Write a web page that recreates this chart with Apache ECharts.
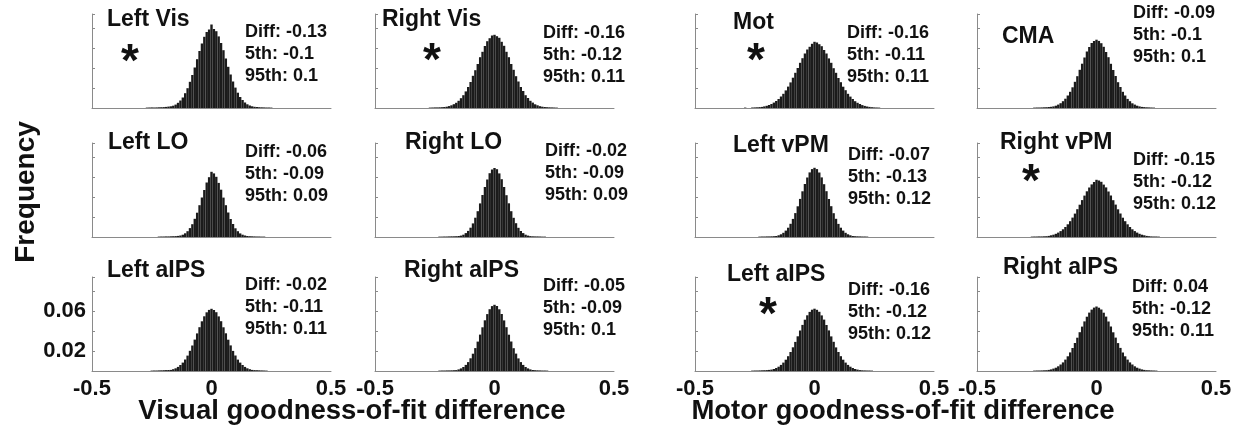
<!DOCTYPE html>
<html>
<head>
<meta charset="utf-8">
<title>Goodness-of-fit difference histograms</title>
<script src="https://cdn.jsdelivr.net/npm/echarts@6/dist/echarts.min.js"></script>
<style>
  html, body { margin: 0; padding: 0; background: #fff; }
  #chart { width: 1239px; height: 432px; }
</style>
</head>
<body>
<div id="chart"></div>
<script>
// bin centres of the permutation histograms (bin width 0.01)
const bins = [
  -0.30, -0.29, -0.28, -0.27, -0.26, -0.25, -0.24, -0.23, -0.22, -0.21,
  -0.20, -0.19, -0.18, -0.17, -0.16, -0.15, -0.14, -0.13, -0.12, -0.11,
  -0.10, -0.09, -0.08, -0.07, -0.06, -0.05, -0.04, -0.03, -0.02, -0.01,
  0.00,
  0.01, 0.02, 0.03, 0.04, 0.05, 0.06, 0.07, 0.08, 0.09, 0.10,
  0.11, 0.12, 0.13, 0.14, 0.15, 0.16, 0.17, 0.18, 0.19, 0.20,
  0.21, 0.22, 0.23, 0.24, 0.25, 0.26, 0.27, 0.28, 0.29, 0.30
]

const panelNames = ['Left Vis', 'Right Vis', 'Mot', 'CMA',
  'Left LO', 'Right LO', 'Left vPM', 'Right vPM',
  'Left aIPS', 'Right aIPS', 'Left aIPS', 'Right aIPS']
const diffValues = [-0.13, -0.16, -0.16, -0.09, -0.06, -0.02, -0.07, -0.15, -0.02, -0.05, -0.16, 0.04]
const p5Values = [-0.1, -0.12, -0.11, -0.1, -0.09, -0.09, -0.13, -0.12, -0.11, -0.09, -0.12, -0.12]
const p95Values = [0.1, 0.11, 0.11, 0.1, 0.09, 0.09, 0.12, 0.12, 0.11, 0.1, 0.12, 0.11]
const significant = [true, true, true, false, false, false, false, true, false, false, true, false]

const xTickLabels = ['-0.5', '0', '0.5']
const yTickLabels = ['0.02', '0.06']

const leftVis = [
  0, 0, 0, 0.0004, 0.0005, 0.0006, 0.0005, 0.0006, 0.0007, 0.0008,
  0.0009, 0.0011, 0.0014, 0.0017, 0.0023, 0.0034, 0.0052, 0.0075, 0.0105, 0.0148,
  0.0198, 0.0262, 0.0330, 0.0405, 0.0488, 0.0570, 0.0645, 0.0712, 0.0760, 0.0785,
  0.0835,
  0.0790, 0.0768, 0.0716, 0.0650, 0.0578, 0.0495, 0.0412, 0.0335, 0.0265, 0.0204,
  0.0153, 0.0110, 0.0080, 0.0055, 0.0037, 0.0025, 0.0017, 0.0012, 0.0010, 0.0008,
  0.0007, 0.0006, 0.0005, 0.0005, 0.0004, 0, 0, 0, 0, 0
]
const rightVis = [
  0, 0, 0, 0.0004, 0.0005, 0.0006, 0.0006, 0.0007, 0.0008, 0.0010,
  0.0013, 0.0019, 0.0027, 0.0038, 0.0052, 0.0072, 0.0098, 0.0128, 0.0166, 0.0210,
  0.0260, 0.0322, 0.0378, 0.0440, 0.0508, 0.0562, 0.0620, 0.0668, 0.0698, 0.0725,
  0.0732,
  0.0718, 0.0702, 0.0662, 0.0622, 0.0562, 0.0508, 0.0440, 0.0382, 0.0318, 0.0265,
  0.0210, 0.0170, 0.0128, 0.0100, 0.0072, 0.0054, 0.0037, 0.0027, 0.0018, 0.0013,
  0.0010, 0.0008, 0.0007, 0.0006, 0.0005, 0.0004, 0, 0, 0, 0
]
const mot = [
  0, 0.0004, 0, 0, 0.0005, 0.0006, 0.0007, 0.0009, 0.0011, 0.0016,
  0.0022, 0.0030, 0.0040, 0.0054, 0.0070, 0.0090, 0.0115, 0.0142, 0.0176, 0.0214,
  0.0256, 0.0303, 0.0352, 0.0400, 0.0452, 0.0498, 0.0545, 0.0585, 0.0612, 0.0642,
  0.0662,
  0.0655, 0.0638, 0.0618, 0.0580, 0.0545, 0.0496, 0.0452, 0.0398, 0.0352, 0.0300,
  0.0258, 0.0213, 0.0178, 0.0142, 0.0114, 0.0090, 0.0068, 0.0052, 0.0040, 0.0029,
  0.0021, 0.0015, 0.0011, 0.0008, 0.0006, 0.0005, 0.0004, 0, 0, 0
]
const cma = [
  0, 0, 0, 0, 0.0004, 0.0005, 0.0005, 0.0006, 0.0007, 0.0008,
  0.0010, 0.0012, 0.0016, 0.0023, 0.0034, 0.0048, 0.0068, 0.0093, 0.0125, 0.0162,
  0.0207, 0.0262, 0.0318, 0.0382, 0.0443, 0.0505, 0.0565, 0.0610, 0.0650, 0.0670,
  0.0683,
  0.0671, 0.0648, 0.0612, 0.0560, 0.0508, 0.0442, 0.0380, 0.0320, 0.0258, 0.0210,
  0.0162, 0.0125, 0.0091, 0.0068, 0.0047, 0.0034, 0.0023, 0.0016, 0.0011, 0.0009,
  0.0007, 0.0006, 0.0005, 0.0004, 0, 0, 0, 0, 0, 0
]
const leftLO = [
  0, 0, 0, 0, 0, 0, 0, 0, 0.0004, 0.0005,
  0.0005, 0.0006, 0.0006, 0.0007, 0.0008, 0.0009, 0.0011, 0.0015, 0.0023, 0.0037,
  0.0058, 0.0089, 0.0128, 0.0182, 0.0243, 0.0318, 0.0395, 0.0470, 0.0545, 0.0598,
  0.0652,
  0.0636, 0.0602, 0.0541, 0.0473, 0.0394, 0.0318, 0.0245, 0.0180, 0.0130, 0.0087,
  0.0058, 0.0036, 0.0023, 0.0015, 0.0010, 0.0008, 0.0007, 0.0006, 0.0005, 0.0005,
  0.0004, 0.0004, 0, 0, 0, 0, 0, 0, 0, 0
]
const rightLO = [
  0, 0, 0, 0, 0, 0, 0, 0.0004, 0.0004, 0.0005,
  0.0005, 0.0006, 0.0007, 0.0007, 0.0008, 0.0010, 0.0014, 0.0023, 0.0039, 0.0061,
  0.0093, 0.0136, 0.0193, 0.0258, 0.0336, 0.0420, 0.0500, 0.0575, 0.0638, 0.0675,
  0.0690,
  0.0678, 0.0636, 0.0578, 0.0500, 0.0418, 0.0337, 0.0258, 0.0192, 0.0138, 0.0092,
  0.0060, 0.0039, 0.0023, 0.0014, 0.0009, 0.0007, 0.0006, 0.0006, 0.0005, 0.0004,
  0.0004, 0, 0, 0, 0, 0, 0, 0, 0, 0
]
const leftVPM = [
  0, 0, 0, 0, 0, 0, 0, 0.0004, 0.0005, 0.0005,
  0.0006, 0.0006, 0.0007, 0.0008, 0.0010, 0.0017, 0.0027, 0.0042, 0.0064, 0.0093,
  0.0132, 0.0181, 0.0239, 0.0307, 0.0381, 0.0457, 0.0530, 0.0595, 0.0646, 0.0679,
  0.0692,
  0.0679, 0.0645, 0.0596, 0.0528, 0.0458, 0.0380, 0.0308, 0.0238, 0.0182, 0.0131,
  0.0093, 0.0064, 0.0042, 0.0027, 0.0017, 0.0010, 0.0008, 0.0007, 0.0006, 0.0005,
  0.0005, 0.0004, 0, 0, 0, 0, 0, 0, 0, 0
]
const rightVPM = [
  0, 0, 0, 0.0004, 0.0005, 0.0005, 0.0006, 0.0006, 0.0007, 0.0008,
  0.0011, 0.0017, 0.0023, 0.0032, 0.0044, 0.0059, 0.0077, 0.0100, 0.0127, 0.0158,
  0.0194, 0.0234, 0.0278, 0.0323, 0.0369, 0.0414, 0.0457, 0.0495, 0.0526, 0.0550,
  0.0572,
  0.0565, 0.0552, 0.0524, 0.0496, 0.0455, 0.0415, 0.0368, 0.0324, 0.0277, 0.0235,
  0.0193, 0.0158, 0.0127, 0.0100, 0.0077, 0.0059, 0.0044, 0.0032, 0.0023, 0.0017,
  0.0011, 0.0008, 0.0006, 0.0005, 0.0005, 0.0004, 0, 0, 0, 0
]
const leftAIPSVis = [
  0, 0, 0, 0, 0, 0.0004, 0.0005, 0.0005, 0.0006, 0.0007,
  0.0008, 0.0009, 0.0010, 0.0011, 0.0018, 0.0027, 0.0041, 0.0060, 0.0084, 0.0115,
  0.0154, 0.0202, 0.0255, 0.0314, 0.0376, 0.0438, 0.0497, 0.0547, 0.0587, 0.0611,
  0.0622,
  0.0610, 0.0588, 0.0546, 0.0498, 0.0437, 0.0377, 0.0313, 0.0256, 0.0201, 0.0155,
  0.0114, 0.0084, 0.0060, 0.0041, 0.0027, 0.0018, 0.0011, 0.0009, 0.0008, 0.0007,
  0.0006, 0.0005, 0.0004, 0, 0, 0, 0, 0, 0, 0
]
const rightAIPSVis = [
  0, 0, 0, 0, 0, 0, 0, 0.0004, 0.0005, 0.0005,
  0.0006, 0.0006, 0.0007, 0.0008, 0.0009, 0.0016, 0.0026, 0.0040, 0.0061, 0.0089,
  0.0127, 0.0173, 0.0229, 0.0294, 0.0364, 0.0437, 0.0507, 0.0569, 0.0618, 0.0649,
  0.0662,
  0.0650, 0.0617, 0.0570, 0.0506, 0.0438, 0.0363, 0.0295, 0.0228, 0.0174, 0.0126,
  0.0089, 0.0061, 0.0040, 0.0026, 0.0016, 0.0010, 0.0008, 0.0007, 0.0006, 0.0005,
  0.0005, 0.0004, 0, 0, 0, 0, 0, 0, 0, 0
]
const leftAIPSMot = [
  0, 0, 0, 0, 0.0004, 0.0005, 0.0005, 0.0006, 0.0007, 0.0008,
  0.0009, 0.0011, 0.0014, 0.0020, 0.0030, 0.0043, 0.0061, 0.0084, 0.0113, 0.0148,
  0.0190, 0.0237, 0.0291, 0.0347, 0.0405, 0.0461, 0.0513, 0.0557, 0.0591, 0.0613,
  0.0623,
  0.0612, 0.0592, 0.0556, 0.0514, 0.0460, 0.0406, 0.0346, 0.0292, 0.0236, 0.0190,
  0.0148, 0.0113, 0.0084, 0.0061, 0.0043, 0.0030, 0.0020, 0.0014, 0.0009, 0.0007,
  0.0006, 0.0005, 0.0005, 0.0004, 0, 0, 0, 0, 0, 0
]
const rightAIPSMot = [
  0, 0, 0, 0, 0.0004, 0.0005, 0.0005, 0.0006, 0.0007, 0.0008,
  0.0011, 0.0016, 0.0024, 0.0033, 0.0047, 0.0065, 0.0086, 0.0114, 0.0147, 0.0186,
  0.0230, 0.0280, 0.0333, 0.0388, 0.0444, 0.0496, 0.0543, 0.0584, 0.0614, 0.0634,
  0.0645,
  0.0633, 0.0615, 0.0583, 0.0544, 0.0495, 0.0445, 0.0387, 0.0334, 0.0279, 0.0231,
  0.0185, 0.0147, 0.0114, 0.0086, 0.0065, 0.0047, 0.0033, 0.0024, 0.0016, 0.0011,
  0.0008, 0.0007, 0.0006, 0.0005, 0.0004, 0, 0, 0, 0, 0
]

const histograms = [leftVis, rightVis, mot, cma, leftLO, rightLO, leftVPM, rightVPM,
  leftAIPSVis, rightAIPSVis, leftAIPSMot, rightAIPSMot]

// layout
const BIN = 0.01
const FONT = '"Liberation Sans", Arial, Helvetica, sans-serif'
const TEXT = '#111'
const AXIS = '#8a8a8a'
const gridLefts = [92, 375, 695, 977]
const gridTops = [14, 143, 277]
const gridW = 239
const gridH = 94
// [titleX, titleY, statX, statY, starX, starY] in page pixels
const textPos = [
  [107, 20, 245, 32, 130, 53], [382, 20, 543, 33, 432, 52], [733, 23, 847, 33, 756, 52], [1002, 37, 1133, 13],
  [108, 143, 245, 152], [405, 143, 545, 151], [733, 146, 848, 155], [1000, 143, 1133, 160, 1031, 173],
  [107, 271, 245, 285], [404, 271, 543, 286], [727, 275, 848, 290, 768, 306], [1003, 268, 1132, 287]
]

const chart = echarts.init(document.getElementById('chart'))

const grids = [], xAxes = [], yAxes = [], series = [], graphics = []
for (let i = 0; i < 12; i++) {
  const row = Math.floor(i / 4), col = i % 4
  grids.push({ left: gridLefts[col], top: gridTops[row], width: gridW, height: gridH, outerBoundsMode: 'none' })
  xAxes.push({
    gridIndex: i, type: 'value', min: -0.5, max: 0.5, interval: 0.5,
    axisLine: { onZero: false, lineStyle: { color: AXIS, width: 1 } },
    axisTick: { show: false },
    splitLine: { show: false },
    axisLabel: {
      show: row === 2, margin: 7, color: TEXT, fontSize: 22, fontWeight: 'bold', fontFamily: FONT,
      formatter: v => xTickLabels[Math.round(v * 2) + 1]
    }
  })
  yAxes.push({
    gridIndex: i, type: 'value', min: 0, max: 0.094, interval: 0.02,
    axisLine: { show: true, onZero: false, lineStyle: { color: AXIS, width: 1 } },
    axisTick: { show: true, inside: true, length: 3, lineStyle: { color: AXIS } },
    splitLine: { show: false },
    axisLabel: {
      show: i === 8, margin: 6, color: TEXT, fontSize: 22, fontWeight: 'bold', fontFamily: FONT,
      formatter: v => { const s = v.toFixed(2); return yTickLabels.indexOf(s) >= 0 ? s : '' }
    }
  })
  series.push({
    type: 'custom', xAxisIndex: i, yAxisIndex: i,
    data: bins.map((b, j) => [b, histograms[i][j]]).filter(d => d[1] > 0),
    renderItem: (params, api) => {
      const x = api.value(0), y = api.value(1)
      const p0 = api.coord([x - BIN / 2, y])
      const p1 = api.coord([x + BIN / 2, 0])
      return {
        type: 'rect',
        shape: { x: p0[0], y: p0[1], width: p1[0] - p0[0], height: p1[1] - p0[1] },
        style: { fill: '#1b1b1b' }
      }
    }
  })

  const t = textPos[i]
  graphics.push({
    type: 'text', x: t[0], y: t[1],
    style: { text: panelNames[i], fill: TEXT, font: 'bold 23px ' + FONT, verticalAlign: 'middle' }
  })
  graphics.push({
    type: 'text', x: t[2], y: t[3] - 11,
    style: {
      text: 'Diff: ' + diffValues[i] + '\n5th: ' + p5Values[i] + '\n95th: ' + p95Values[i],
      fill: TEXT, font: 'bold 18px ' + FONT, lineHeight: 22, verticalAlign: 'top'
    }
  })
  if (significant[i]) {
    graphics.push({
      type: 'text', x: t[4], y: t[5] + 10,
      style: { text: '*', fill: TEXT, font: 'bold 46px ' + FONT, align: 'center', verticalAlign: 'middle' }
    })
  }
}

graphics.push({
  type: 'text', x: 26, y: 192, rotation: Math.PI / 2,
  style: { text: 'Frequency', fill: TEXT, font: 'bold 28px ' + FONT, align: 'center', verticalAlign: 'middle' }
})
graphics.push({
  type: 'text', x: 352, y: 411,
  style: { text: 'Visual goodness-of-fit difference', fill: TEXT, font: 'bold 27.5px ' + FONT, align: 'center', verticalAlign: 'middle' }
})
graphics.push({
  type: 'text', x: 903, y: 411,
  style: { text: 'Motor goodness-of-fit difference', fill: TEXT, font: 'bold 27.5px ' + FONT, align: 'center', verticalAlign: 'middle' }
})

chart.setOption({
  animation: false,
  backgroundColor: '#fff',
  grid: grids,
  xAxis: xAxes,
  yAxis: yAxes,
  series: series,
  graphic: graphics
})
</script>
</body>
</html>
